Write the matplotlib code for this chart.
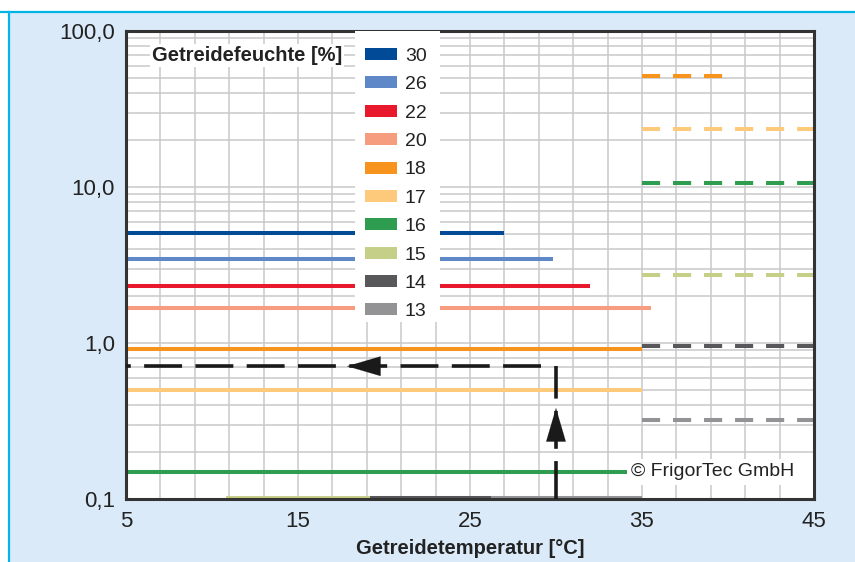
import matplotlib
matplotlib.use("Agg")
import matplotlib.pyplot as plt
from matplotlib import ticker
from matplotlib.lines import Line2D
from matplotlib.patches import Patch, Rectangle

# grain moisture classes and their storage-time lines
moisture = ["30", "26", "22", "20", "18", "17", "16", "15", "14", "13"]
colors = ["#004a98", "#5f88c8", "#e8192c", "#f59d7e", "#f7941d",
          "#fdca7c", "#2e9d50", "#c5cf87", "#58585a", "#939396"]
solid_start = [5, 5, 5, 5, 5, 5, 5, 10.8, 19.2, 26.2]
solid_end = [27, 29.8, 32, 35.5, 35, 35, 35, 19.2, 26.2, 35]
solid_value = [5.05, 3.45, 2.33, 1.68, 0.91, 0.50, 0.148, 0.102, 0.102, 0.102]
dashed_start = [None, None, None, None, 35, 35, 35, 35, 35, 35]
dashed_end = [None, None, None, None, 39.8, 45, 45, 45, 45, 45]
dashed_value = [None, None, None, None, 51.6, 23.6, 10.6, 2.74, 0.95, 0.32]

# reading example (black dashed arrows)
example_temp = 30
example_value = 0.71
x_ticks = [5, 15, 25, 35, 45]
y_ticks = [0.1, 1, 10, 100]
y_labels = ["0,1", "1,0", "10,0", "100,0"]

plt.rcParams["font.family"] = ["Liberation Sans", "DejaVu Sans"]

fig = plt.figure(figsize=(8.55, 5.62), dpi=100, facecolor="white")
fig.patches.append(Rectangle((0.0105, 0), 1, 0.9786, transform=fig.transFigure,
                             facecolor="#daeaf8", edgecolor="none", zorder=-5))
fig.add_artist(Line2D([0, 1], [0.9786, 0.9786], color="#00b4e6", lw=1.6, zorder=-4))
fig.add_artist(Line2D([0.0105, 0.0105], [0, 0.9786], color="#00b4e6", lw=1.6, zorder=-4))

ax = fig.add_axes([0.1474, 0.1121, 0.952 - 0.1474, 0.9448 - 0.1121])
ax.set_facecolor("white")
ax.set_yscale("log")
ax.set_xlim(5, 45)
ax.set_ylim(0.1, 100)

# solid and dashed lines per moisture class
for i, m in enumerate(moisture):
    ax.plot([solid_start[i], solid_end[i]], [solid_value[i], solid_value[i]],
            color=colors[i], lw=2.9, solid_capstyle="butt", zorder=2,
            clip_on=False)
    if dashed_value[i] is not None:
        ax.plot([dashed_start[i], dashed_end[i]], [dashed_value[i], dashed_value[i]],
                color=colors[i], lw=2.9, dashes=(4.5, 3.2),
                dash_capstyle="butt", zorder=2)

# example reading path
ax.plot([example_temp, example_temp], [0.1, example_value], color="#1a1a1a",
        lw=2.6, dashes=(10.5, 3.4), dash_capstyle="butt", zorder=4)
ax.plot([example_temp - 0.9, 5], [example_value, example_value], color="#1a1a1a",
        lw=2.6, dashes=(10.5, 3.7), dash_capstyle="butt", zorder=4)
head = dict(arrowstyle="-|>,head_length=1.6,head_width=0.47", color="#1a1a1a",
            lw=0.1, shrinkA=0, shrinkB=0, mutation_scale=15)
ax.annotate("", xy=(17.85, example_value), xytext=(19.9, example_value),
            arrowprops=head, zorder=5)
ax.annotate("", xy=(example_temp, 0.383), xytext=(example_temp, 0.22),
            arrowprops=head, zorder=5)

# grid
ax.set_xticks(x_ticks)
ax.xaxis.set_minor_locator(ticker.MultipleLocator(2, offset=1))
ax.set_yticks(y_ticks)
ax.set_yticklabels(y_labels)
ax.yaxis.set_minor_locator(ticker.LogLocator(base=10, subs=range(2, 10)))
ax.yaxis.set_minor_formatter(ticker.NullFormatter())
ax.grid(True, which="both", color="#c9c9c9", lw=1.1)
ax.set_axisbelow(True)
ax.tick_params(which="both", length=0)
ax.tick_params(axis="x", labelsize=16, pad=9, labelcolor="#222222")
ax.tick_params(axis="y", labelsize=16, pad=8, labelcolor="#222222")
for s in ax.spines.values():
    s.set_color("#333333")
    s.set_linewidth(2.2)

ax.set_xlabel("Getreidetemperatur [°C]", fontsize=14.5, fontweight="bold",
              color="#222222", labelpad=5)

# legend on a white panel
ax.add_patch(Rectangle((0.333, 0.378), 0.1235, 0.622, transform=ax.transAxes,
                       facecolor="white", edgecolor="none", zorder=5))
handles = [Patch(facecolor=c, edgecolor="none") for c in colors]
leg = ax.legend(handles, moisture, loc="upper left", bbox_to_anchor=(0.333, 0.985),
                fontsize=14, frameon=False, borderaxespad=0,
                borderpad=0.51, handlelength=1.64, handleheight=0.57,
                handletextpad=0.41, labelspacing=0.585)
for t in leg.get_texts():
    t.set_color("#222222")
leg.set_zorder(6)

ax.text(0.038, 0.9487, "Getreidefeuchte [%]", transform=ax.transAxes,
        fontsize=14.5, fontweight="bold", color="#222222", va="center", ha="left",
        bbox=dict(facecolor="white", edgecolor="none", pad=1.5), zorder=6)
ax.text(0.972, 0.0577, "© FrigorTec GmbH", transform=ax.transAxes,
        fontsize=14, color="#222222", va="center", ha="right",
        bbox=dict(facecolor="white", edgecolor="none", pad=3), zorder=6)

fig.savefig("out.png", dpi=100, facecolor=fig.get_facecolor())
